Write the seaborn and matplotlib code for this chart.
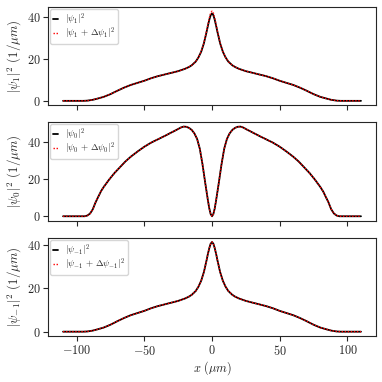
import numpy as np
import pandas as pd
import matplotlib
matplotlib.use("Agg")
import matplotlib.pyplot as plt
import seaborn as sns

# positions (um)
x = [-110, -100, -95, -92, -88, -85, -80, -75, -70, -65, -60, -55, -50, -45, -40, -35,
     -30, -25, -20, -17, -15, -12, -10, -8, -6, -4, -3, -2, -1, 0,
     1, 2, 3, 4, 6, 8, 10, 12, 15, 17, 20, 25, 30, 35, 40, 45, 50, 55, 60, 65, 70,
     75, 80, 85, 88, 92, 95, 100, 110]

# |psi_1|^2
psi1 = [0, 0, 0, 0.1, 0.5, 1.0, 1.9, 3.2, 4.8, 6.3, 7.6, 8.6, 9.6, 10.8, 11.8, 12.6,
        13.4, 14.2, 15.3, 16.2, 17.0, 18.8, 20.8, 23.5, 27.5, 33.0, 36.0, 38.8, 41.0, 41.8,
        41.0, 38.8, 36.0, 33.0, 27.5, 23.5, 20.8, 18.8, 17.0, 16.2, 15.3, 14.2, 13.4, 12.6,
        11.8, 10.8, 9.6, 8.6, 7.6, 6.3, 4.8, 3.2, 1.9, 1.0, 0.5, 0.1, 0, 0, 0]
psi1_d = [0, 0, 0, 0.1, 0.5, 1.0, 1.9, 3.2, 4.8, 6.3, 7.6, 8.6, 9.6, 10.8, 11.8, 12.6,
          13.4, 14.2, 15.3, 16.2, 17.0, 18.8, 20.8, 23.6, 27.7, 33.4, 36.6, 39.6, 42.0, 42.9,
          42.0, 39.6, 36.6, 33.4, 27.7, 23.6, 20.8, 18.8, 17.0, 16.2, 15.3, 14.2, 13.4, 12.6,
          11.8, 10.8, 9.6, 8.6, 7.6, 6.3, 4.8, 3.2, 1.9, 1.0, 0.5, 0.1, 0, 0, 0]

# |psi_0|^2
x0 = [-110, -100, -94, -92, -90, -88, -86, -84, -82, -80, -76, -72, -68, -64, -60, -55,
      -50, -45, -40, -35, -30, -26, -23, -21, -19, -17, -15, -13, -11, -9, -7, -5, -3,
      -2, -1, 0, 1, 2, 3, 5, 7, 9, 11, 13, 15, 17, 19, 21, 23, 26, 30, 35, 40, 45, 50,
      55, 60, 64, 68, 72, 76, 80, 82, 84, 86, 88, 90, 92, 94, 100, 110]
psi0 = [0, 0, 0, 0.4, 1.5, 3.8, 7.5, 10.5, 13.5, 15.8, 19.8, 23.4, 26.5, 29.6, 32.2, 35.0,
        37.6, 39.8, 41.6, 43.4, 45.3, 46.8, 48.0, 48.5, 48.4, 47.8, 46.7, 44.8, 41.8, 36.5,
        28.0, 18.0, 8.5, 4.2, 1.2, 0, 1.2, 4.2, 8.5, 18.0, 28.0, 36.5, 41.8, 44.8, 46.7,
        47.8, 48.4, 48.5, 48.0, 46.8, 45.3, 43.4, 41.6, 39.8, 37.6, 35.0, 32.2, 29.6, 26.5,
        23.4, 19.8, 15.8, 13.5, 10.5, 7.5, 3.8, 1.5, 0.4, 0, 0, 0]
psi0_d = psi0

# |psi_-1|^2
psim1 = [0, 0, 0, 0.1, 0.5, 1.0, 1.9, 3.2, 4.8, 6.3, 7.6, 8.6, 9.6, 10.8, 11.8, 12.6,
         13.4, 14.2, 15.3, 16.2, 17.0, 18.8, 20.8, 23.5, 27.5, 33.0, 36.0, 38.6, 40.6, 41.4,
         40.6, 38.6, 36.0, 33.0, 27.5, 23.5, 20.8, 18.8, 17.0, 16.2, 15.3, 14.2, 13.4, 12.6,
         11.8, 10.8, 9.6, 8.6, 7.6, 6.3, 4.8, 3.2, 1.9, 1.0, 0.5, 0.1, 0, 0, 0]
psim1_d = psim1

sns.set_style("ticks")
plt.rcParams["font.family"] = "serif"
plt.rcParams["font.serif"] = ["cmr10", "DejaVu Serif"]
plt.rcParams["mathtext.fontset"] = "cm"
plt.rcParams["axes.formatter.use_mathtext"] = True
plt.rcParams["axes.unicode_minus"] = True

fig, axs = plt.subplots(3, 1, figsize=(3.82, 3.82), dpi=100, sharex=True)
fig.subplots_adjust(left=0.126, right=0.984, top=0.9825, bottom=0.12, hspace=0.17)

panels = [
    (x, psi1, psi1_d, "1"),
    (x0, psi0, psi0_d, "0"),
    (x, psim1, psim1_d, "-1"),
]

for ax, (xs, y, yd, s) in zip(axs, panels):
    sns.lineplot(x=xs, y=y, ax=ax, color="black", lw=1.3, estimator=None, sort=False,
                 label=r"$|\psi_{%s}|^2$" % s)
    sns.lineplot(x=xs, y=yd, ax=ax, color="red", lw=1.0, ls=(0, (1, 1.2)),
                 estimator=None, sort=False,
                 label=r"$|\psi_{%s}\,+\,\Delta\psi_{%s}|^2$" % (s, s))
    ax.set_yticks([0, 20, 40])
    ax.set_ylabel(r"$|\psi_{%s}|^2\ (1/\mu m)$" % s, fontsize=9.3, labelpad=2)
    ax.tick_params(labelsize=8.8, length=3.5, width=0.8, pad=2)
    for sp in ax.spines.values():
        sp.set_linewidth(0.8)
    ax.legend(loc="upper left", fontsize=6.6, handlelength=0.5, handletextpad=0.8,
              borderpad=0.3, labelspacing=-0.15, borderaxespad=0.25)

axs[2].set_xticks([-100, -50, 0, 50, 100])
axs[2].set_xlabel(r"$x\ (\mu m)$", fontsize=8.8, labelpad=1)

fig.savefig("out.png", dpi=100)
